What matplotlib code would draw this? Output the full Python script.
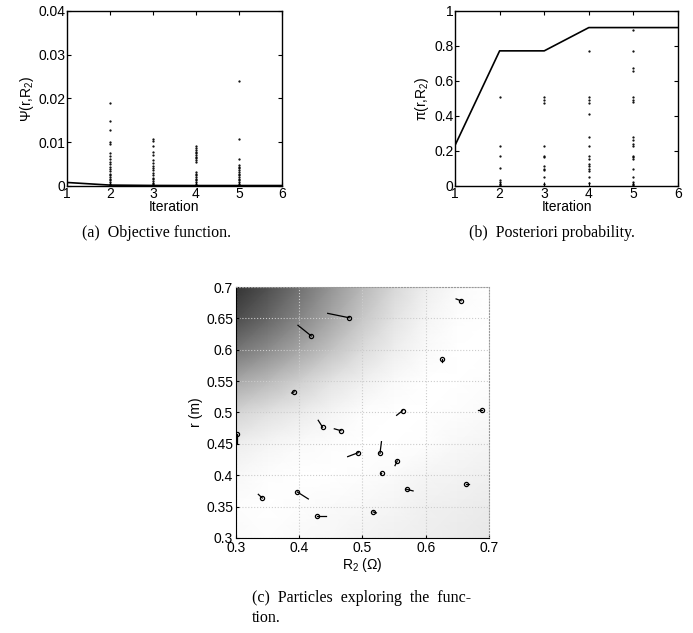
import matplotlib
matplotlib.use("Agg")
import matplotlib.pyplot as plt
import numpy as np

plt.rcParams["font.family"] = ["Liberation Sans", "DejaVu Sans"]
plt.rcParams["mathtext.fontset"] = "custom"
plt.rcParams["mathtext.rm"] = "Liberation Sans"
plt.rcParams["mathtext.it"] = "Liberation Sans:italic"
plt.rcParams["font.size"] = 10

# (a) objective function per iteration
iterations = [1, 2, 3, 4, 5, 6]
best_obj = [0.0008, 0.0002, 0.00012, 0.0001, 0.0001, 0.0001]
obj_dots = {
    2: [0.0190, 0.0149, 0.0128, 0.0100, 0.0095, 0.0076, 0.0068, 0.0061, 0.0055, 0.0050,
        0.0044, 0.0038, 0.0034, 0.0028, 0.0025, 0.0021, 0.0017, 0.0013, 0.0009, 0.0005, 0.0002],
    3: [0.0107, 0.0102, 0.0092, 0.0078, 0.0071, 0.0059, 0.0052, 0.0045, 0.0040, 0.0036,
        0.0030, 0.0025, 0.0019, 0.0015, 0.0012, 0.0007, 0.0004],
    4: [0.0092, 0.0086, 0.0082, 0.0078, 0.0075, 0.0071, 0.0067, 0.0063, 0.0059, 0.0055,
        0.0032, 0.0028, 0.0025, 0.0021, 0.0017, 0.0013, 0.0009, 0.0005],
    5: [0.0240, 0.0108, 0.0062, 0.0048, 0.0044, 0.0040, 0.0036, 0.0032, 0.0028, 0.0025,
        0.0021, 0.0017, 0.0013, 0.0009, 0.0005, 0.0002],
}

# (b) posterior probability per iteration
best_post = [0.232, 0.772, 0.772, 0.905, 0.905, 0.905]
post_dots = {
    2: [0.507, 0.23, 0.171, 0.10, 0.036, 0.023, 0.011, 0.004],
    3: [0.507, 0.493, 0.472, 0.23, 0.173, 0.165, 0.114, 0.099, 0.089, 0.051, 0.013],
    4: [0.772, 0.507, 0.493, 0.472, 0.412, 0.279, 0.23, 0.173, 0.156, 0.127, 0.112,
        0.099, 0.085, 0.051, 0.017],
    5: [0.89, 0.772, 0.672, 0.658, 0.507, 0.493, 0.478, 0.279, 0.26, 0.241, 0.23, 0.173,
        0.165, 0.152, 0.099, 0.051, 0.023, 0.013, 0.004],
}

# (c) function surface (gray level, 1 = white), rows r 0.3..0.7, cols R2 0.3..0.7
grid_R2 = [0.30, 0.35, 0.40, 0.45, 0.50, 0.55, 0.60, 0.65, 0.70]
grid_r = [0.30, 0.35, 0.40, 0.45, 0.50, 0.55, 0.60, 0.65, 0.70]
surface = [
    [0.98, 0.99, 0.98, 0.97, 0.95, 0.94, 0.93, 0.92, 0.91],
    [0.99, 1.00, 0.99, 0.98, 0.97, 0.96, 0.94, 0.93, 0.92],
    [0.97, 0.99, 1.00, 1.00, 0.99, 0.98, 0.96, 0.95, 0.94],
    [0.93, 0.96, 0.98, 0.99, 1.00, 1.00, 0.99, 0.97, 0.96],
    [0.83, 0.88, 0.92, 0.96, 0.99, 1.00, 1.00, 0.99, 0.98],
    [0.66, 0.73, 0.81, 0.89, 0.94, 0.98, 1.00, 1.00, 0.99],
    [0.46, 0.55, 0.65, 0.76, 0.86, 0.93, 0.98, 1.00, 1.00],
    [0.30, 0.40, 0.52, 0.65, 0.78, 0.89, 0.96, 0.99, 1.00],
    [0.20, 0.31, 0.44, 0.58, 0.72, 0.84, 0.93, 0.98, 1.00],
]

# particles: final position and where the short trail starts
part_R2 = [0.479, 0.419, 0.656, 0.626, 0.392, 0.5635, 0.689, 0.437, 0.466, 0.301, 0.4934,
           0.5277, 0.555, 0.5303, 0.5698, 0.6636, 0.3416, 0.397, 0.4275, 0.517]
part_r = [0.651, 0.622, 0.678, 0.585, 0.533, 0.503, 0.5045, 0.4765, 0.471, 0.465, 0.436,
          0.4349, 0.4227, 0.403, 0.3776, 0.3856, 0.3637, 0.3733, 0.3356, 0.3414]
trail_R2 = [0.445, 0.398, 0.648, 0.626, 0.388, 0.554, 0.683, 0.430, 0.4555, 0.301, 0.4766,
            0.530, 0.5514, 0.529, 0.580, 0.668, 0.3353, 0.4144, 0.442, 0.522]
trail_r = [0.658, 0.639, 0.681, 0.580, 0.531, 0.4955, 0.5045, 0.4876, 0.474, 0.452, 0.4296,
           0.4535, 0.4153, 0.401, 0.375, 0.3856, 0.3696, 0.3622, 0.3356, 0.340]

fig = plt.figure(figsize=(6.93, 6.33), dpi=100)


def box_axes(ax):
    ax.tick_params(direction="in", top=True, right=True, length=3, width=0.8, pad=1)
    for s in ax.spines.values():
        s.set_linewidth(1.0)


# (a)
ax1 = fig.add_axes([0.0967, 0.7062, 0.310, 0.2765])
for it, vals in obj_dots.items():
    ax1.plot([it] * len(vals), vals, "k.", markersize=1.2)
ax1.plot(iterations, best_obj, "k-", linewidth=1.2)
ax1.set_xlim(1, 6)
ax1.set_ylim(0, 0.04)
ax1.set_xticks([1, 2, 3, 4, 5, 6])
ax1.set_yticks([0, 0.01, 0.02, 0.03, 0.04])
ax1.set_yticklabels(["0", "0.01", "0.02", "0.03", "0.04"])
ax1.set_xlabel("Iteration", labelpad=-1)
ax1.set_ylabel("\u03a8(r,R$_2$)", labelpad=2)
box_axes(ax1)

# (b)
ax2 = fig.add_axes([0.6566, 0.7062, 0.3218, 0.2765])
for it, vals in post_dots.items():
    ax2.plot([it] * len(vals), vals, "k.", markersize=1.2)
ax2.plot(iterations, best_post, "k-", linewidth=1.2)
ax2.set_xlim(1, 6)
ax2.set_ylim(0, 1)
ax2.set_xticks([1, 2, 3, 4, 5, 6])
ax2.set_yticks([0, 0.2, 0.4, 0.6, 0.8, 1])
ax2.set_yticklabels(["0", "0.2", "0.4", "0.6", "0.8", "1"])
ax2.set_xlabel("Iteration", labelpad=-1)
ax2.set_ylabel("\u03c0(r,R$_2$)", labelpad=2)
box_axes(ax2)

# (c)
ax3 = fig.add_axes([0.3405, 0.1501, 0.3651, 0.3965])
X, Y = np.meshgrid(grid_R2, grid_r)
ax3.pcolormesh(X, Y, np.array(surface), shading="gouraud", cmap="gray", vmin=0, vmax=1)
for x0, y0, x1, y1 in zip(trail_R2, trail_r, part_R2, part_r):
    ax3.plot([x0, x1], [y0, y1], "k-", linewidth=0.9)
ax3.plot(part_R2, part_r, "o", markerfacecolor="none", markeredgecolor="k",
         markersize=3.0, markeredgewidth=0.9)
ax3.set_xlim(0.3, 0.7)
ax3.set_ylim(0.3, 0.7)
ax3.set_xticks([0.3, 0.4, 0.5, 0.6, 0.7])
ax3.set_yticks([0.3, 0.35, 0.4, 0.45, 0.5, 0.55, 0.6, 0.65, 0.7])
ax3.set_xticklabels(["0.3", "0.4", "0.5", "0.6", "0.7"])
ax3.set_yticklabels(["0.3", "0.35", "0.4", "0.45", "0.5", "0.55", "0.6", "0.65", "0.7"])
ax3.grid(True, linestyle=":", color="#cccccc", linewidth=0.8)
ax3.tick_params(direction="in", length=2, width=0.8, pad=2)
ax3.spines["top"].set_linestyle(":")
ax3.spines["right"].set_linestyle(":")
ax3.spines["top"].set_color("#999999")
ax3.spines["right"].set_color("#999999")
ax3.set_xlabel("R$_2$ (\u03a9)", labelpad=1)
ax3.set_ylabel("r (m)", labelpad=2)

# captions
cap = dict(family=["Liberation Serif", "DejaVu Serif"], fontsize=11.5)
fig.text(0.2265, 1 - 233 / 633, "(a)  Objective function.", ha="center", va="center", **cap)
fig.text(0.7965, 1 - 233 / 633, "(b)  Posteriori probability.", ha="center", va="center", **cap)
fig.text(0.3635, 1 - 598 / 633, "(c)  Particles  exploring  the  func-", ha="left", va="center", **cap)
fig.text(0.3635, 1 - 618 / 633, "tion.", ha="left", va="center", **cap)

fig.savefig("out.png", dpi=100)
